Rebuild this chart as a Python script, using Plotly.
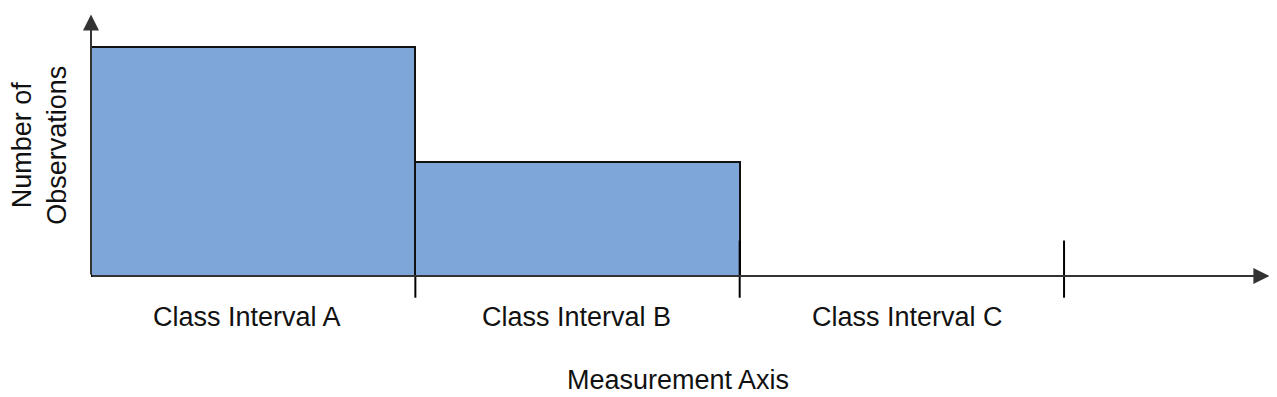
import plotly.graph_objects as go

# Data
categories = ["Class Interval A", "Class Interval B", "Class Interval C"]
counts = [2.0, 1.0, 0.0]
boundaries = [0, 1, 2, 3]
x_title = "Measurement Axis"
y_title = "Number of<br>Observations"

centers = [(boundaries[i] + boundaries[i + 1]) / 2 for i in range(len(categories))]
widths = [boundaries[i + 1] - boundaries[i] for i in range(len(categories))]
label_shift_px = [-6, -1, 6]

X_MAX = 3.635
Y_MAX = 2.29
Y_MIN = -0.988

FONT = dict(family="Liberation Sans, Arial", size=27, color="#111111")

fig = go.Figure()
fig.add_trace(go.Bar(
    x=centers, y=counts, width=widths,
    marker=dict(color="#7ea6d8", line=dict(color="#111111", width=2)),
    hoverinfo="skip", showlegend=False,
))

shapes = []
for i, b in enumerate(boundaries[1:]):
    top = 0.0 if i == 0 else 0.31
    shapes.append(dict(type="line", xref="x", yref="y", x0=b, x1=b, y0=-0.19, y1=top,
                       line=dict(color="#000000", width=2), layer="above"))

annotations = []
annotations.append(dict(x=X_MAX - 0.002, y=0, ax=0, ay=0, xref="x", yref="y", axref="x", ayref="y",
                        showarrow=True, arrowhead=2, arrowsize=1.6, arrowwidth=2,
                        arrowcolor="#333333", text=""))
annotations.append(dict(x=0, y=Y_MAX - 0.005, ax=0, ay=0, xref="x", yref="y", axref="x", ayref="y",
                        showarrow=True, arrowhead=2, arrowsize=1.6, arrowwidth=2,
                        arrowcolor="#333333", text=""))
for c, lab, sh in zip(centers, categories, label_shift_px):
    annotations.append(dict(x=c, y=-0.36, xref="x", yref="y", text=lab, showarrow=False,
                            xshift=sh, font=FONT))
annotations.append(dict(x=(boundaries[0] + boundaries[-1]) / 2 + 0.31, y=-0.91, xref="x", yref="y",
                        text=x_title, showarrow=False, font=FONT))
annotations.append(dict(x=-0.0433, y=0.651, xref="paper", yref="paper", text=y_title, showarrow=False,
                        xanchor="center", yanchor="middle", textangle=-90, font=FONT))

fig.update_layout(
    width=1269, height=389,
    margin=dict(l=83, r=7, t=6, b=8, autoexpand=False),
    plot_bgcolor="white", paper_bgcolor="white",
    xaxis=dict(range=[0, X_MAX], visible=False, fixedrange=True),
    yaxis=dict(range=[Y_MIN, Y_MAX], visible=False, fixedrange=True),
    shapes=shapes, annotations=annotations,
    bargap=0,
)

fig.write_html("out.html")
